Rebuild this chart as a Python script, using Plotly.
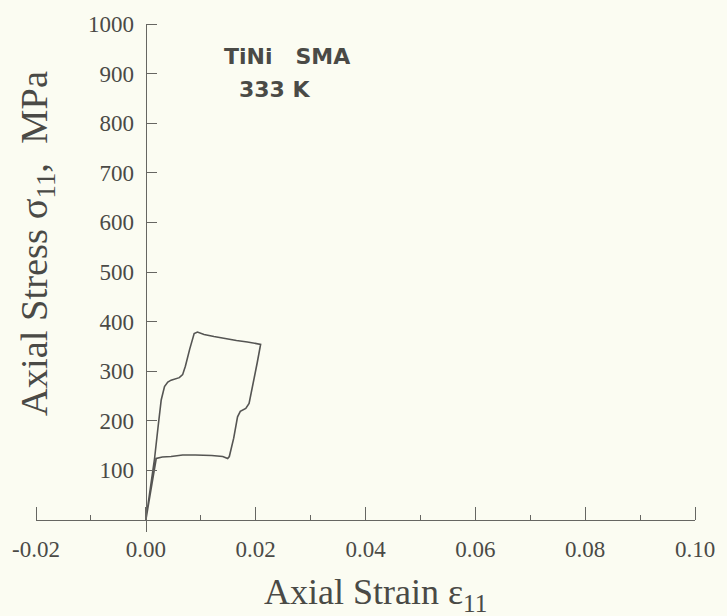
import plotly.graph_objects as go

# ---- data ----
load_strain = [0.0, 0.0008, 0.0016, 0.0022, 0.0028, 0.0034, 0.0040, 0.0046, 0.0055, 0.0061,
               0.0067, 0.0072, 0.0080, 0.0088, 0.0094, 0.0106, 0.0124, 0.0142, 0.0165, 0.0185,
               0.0205, 0.0209]
load_stress = [0, 60, 125, 185, 242, 269, 278, 282, 285, 287,
               293, 310, 345, 376, 379, 374, 370, 366, 362, 359,
               356, 354]
unload_strain = [0.0209, 0.0203, 0.0197, 0.0188, 0.0182, 0.0172, 0.0167, 0.0160, 0.0152,
                 0.0149, 0.0140, 0.0120, 0.0090, 0.0067, 0.0046, 0.0030, 0.0019, 0.0010, 0.0]
unload_stress = [354, 318, 282, 235, 225, 219, 208, 165, 128,
                 124, 128, 130, 131, 131, 128, 127, 124, 65, 0]

x_tick_step = 0.02
x_minor_step = 0.01
y_tick_step = 100
x_label_alias = {"\u22120.02": "-0.02"}
y_label_alias = {"0": ""}

x_range = [-0.02, 0.10]
y_range = [-24.2, 1000]

line_col = "#555553"
axis_col = "#666662"
text_col = "#4a4a46"
bg = "#fbfcf2"
serif = "Liberation Serif, Times New Roman, serif"
sans = "DejaVu Sans, Verdana, sans-serif"

strain = load_strain + unload_strain[1:]
stress = load_stress + unload_stress[1:]

fig = go.Figure()
fig.add_trace(go.Scatter(x=strain, y=stress, mode="lines",
                         line=dict(color=line_col, width=1.6), showlegend=False))
# transparent copy so the overlay axis (major tick marks) gets drawn
fig.add_trace(go.Scatter(x=strain, y=stress, xaxis="x2", mode="lines", opacity=0,
                         line=dict(color=line_col, width=0.1), showlegend=False,
                         hoverinfo="skip"))

ypos = (0 - x_range[0]) / (x_range[1] - x_range[0])
xpos = (0 - y_range[0]) / (y_range[1] - y_range[0])

fig.update_layout(
    width=727, height=616,
    margin=dict(l=35, r=27, t=24, b=84),
    paper_bgcolor=bg, plot_bgcolor=bg,
    xaxis=dict(range=x_range, showgrid=False, zeroline=False,
               showline=True, linecolor=axis_col, linewidth=1.3,
               anchor="free", position=xpos,
               tickmode="linear", tick0=0, dtick=x_tick_step, tickformat=".2f",
               labelalias=x_label_alias,
               ticks="outside", ticklen=0, tickwidth=1, tickcolor=axis_col,
               ticklabelstandoff=8,
               minor=dict(dtick=x_minor_step, tick0=0, ticks="inside", ticklen=5, tickwidth=1.2,
                          tickcolor=axis_col, showgrid=False),
               tickfont=dict(family=serif, size=23, color=text_col)),
    xaxis2=dict(range=x_range, overlaying="x", anchor="free", position=xpos,
                showgrid=False, zeroline=False, showline=False, showticklabels=False,
                tickmode="linear", tick0=0, dtick=x_tick_step,
                ticks="outside", ticklen=0, tickwidth=1, tickcolor=axis_col,
                minor=dict(dtick=x_tick_step, tick0=0, ticks="inside", ticklen=13, tickwidth=1.3,
                           tickcolor=axis_col, showgrid=False)),
    yaxis=dict(range=y_range, showgrid=False, zeroline=False,
               showline=True, linecolor=axis_col, linewidth=1.3,
               anchor="free", position=ypos,
               tickmode="linear", tick0=0, dtick=y_tick_step,
               labelalias=y_label_alias,
               ticks="outside", ticklen=0, tickwidth=1, tickcolor=axis_col,
               ticklabelstandoff=7,
               minor=dict(dtick=y_tick_step, tick0=0, ticks="inside", ticklen=10, tickwidth=1.3,
                          tickcolor=axis_col, showgrid=False),
               tickfont=dict(family=serif, size=23, color=text_col)),
    annotations=[
        dict(x=0.5152, y=-0.075, xref="paper", yref="paper", xanchor="center", yanchor="top",
             text="Axial Strain ε<sub>11</sub>", showarrow=False,
             font=dict(family=serif, size=36, color=text_col)),
        dict(x=0.0025, y=0.568, xref="paper", yref="paper", xanchor="center", yanchor="middle",
             text="Axial Stress σ<sub>11</sub>,  MPa", showarrow=False, textangle=-90,
             font=dict(family=serif, size=38.5, color=text_col)),
        dict(x=0.0139, y=963, xref="x", yref="y", xanchor="left", yanchor="top",
             text="<b>TiNi&nbsp;&nbsp;&nbsp;SMA</b>", showarrow=False,
             font=dict(family=sans, size=22, color=text_col)),
        dict(x=0.0166, y=898, xref="x", yref="y", xanchor="left", yanchor="top",
             text="<b>333 K</b>", showarrow=False,
             font=dict(family=sans, size=22, color=text_col)),
    ],
)

fig.write_html("out.html")
